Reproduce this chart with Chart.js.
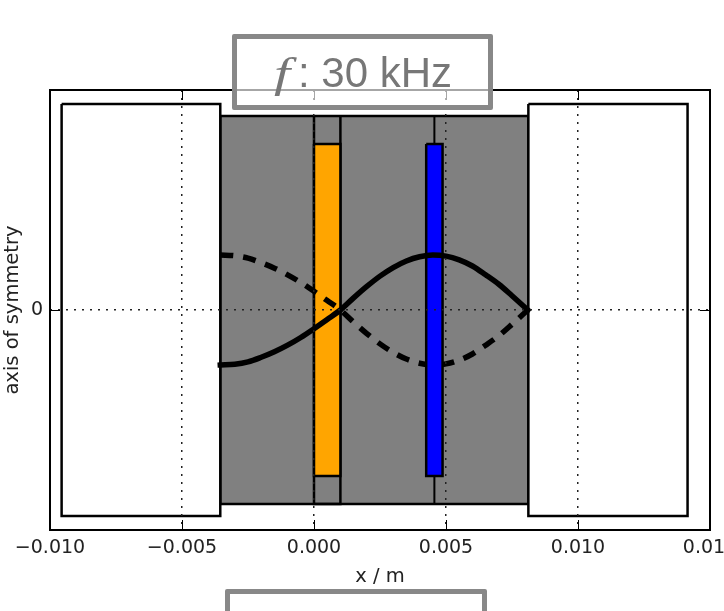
<!DOCTYPE html>
<html>
<head>
<meta charset="utf-8">
<style>
html,body{margin:0;padding:0;background:#fff;width:724px;height:611px;overflow:hidden}
#wrap{position:relative;width:724px;height:611px;overflow:hidden}
canvas{display:block}
.box{position:absolute;box-sizing:border-box;border:5px solid #888;border-radius:2px;background:rgba(255,255,255,.65)}
.lbl{position:absolute;color:#777;white-space:nowrap;line-height:1}
</style>
<script src="https://cdn.jsdelivr.net/npm/chart.js@4"></script>
</head>
<body>
<div id="wrap">
<canvas id="c" width="724" height="611"></canvas>
<div class="box" style="left:232px;top:34px;width:261px;height:76px"></div>
<div class="lbl" style="left:274px;top:48px;font:italic 43px 'Liberation Serif',serif;transform:scaleX(1.35);transform-origin:left top">f</div>
<div class="lbl" style="left:298px;top:49px;font:42px 'Liberation Sans',sans-serif">: 30 kHz</div>
<div class="box" style="left:225px;top:589px;width:262px;height:60px"></div>
</div>
<script>
const xTicks = [-0.01, -0.005, 0, 0.005, 0.01, 0.015];
const yTicks = [0];
const xTitle = "x / m";
const yTitle = "axis of symmetry";

const waveX = [-0.00355,-0.003,-0.0025,-0.002,-0.0015,-0.001,-0.0005,0,0.0005,0.001,0.0015,0.002,0.0025,0.003,0.0035,0.004,0.0045,0.005,0.0055,0.006,0.0065,0.007,0.0075,0.0081];
const solidY = [-0.25,-0.247,-0.236,-0.215,-0.19,-0.16,-0.125,-0.085,-0.043,0,0.055,0.107,0.154,0.193,0.223,0.242,0.25,0.245,0.228,0.2,0.16,0.117,0.065,0];
const dashedY = [0.25,0.247,0.236,0.215,0.19,0.16,0.125,0.085,0.043,0,-0.055,-0.107,-0.154,-0.193,-0.223,-0.242,-0.25,-0.245,-0.228,-0.2,-0.16,-0.117,-0.065,0];

const regionX = [-0.00355, 0.00812, 0.00812, -0.00355, -0.00355];
const regionY = [0.882, 0.882, -0.882, -0.882, 0.882];
const leftWallX = [-0.00956, -0.00355, -0.00355, -0.00956, -0.00956];
const rightWallX = [0.00812, 0.01415, 0.01415, 0.00812, 0.00812];
const wallY = [0.936, 0.936, -0.936, -0.936, 0.936];
const orangeX = [0, 0.001, 0.001, 0, 0];
const orangeY = [0.755, 0.755, -0.755, -0.755, 0.755];
const blueX = [0.00425, 0.00487, 0.00487, 0.00425, 0.00425];
const blueY = [0.755, 0.755, -0.755, -0.755, 0.755];
const orangeStemX = [0, 0, 0.001, 0.001];
const orangeStemY = [0.882, -0.882, -0.882, 0.882];
const blueStemX = [0.00456, 0.00456];
const blueStemY = [0.882, -0.882];

const pts = (xs, ys) => xs.map((x, i) => ({x, y: ys[i]}));
const shape = (xs, ys, fill, width) => ({
  data: pts(xs, ys), showLine: true, pointRadius: 0, tension: 0,
  borderColor: '#000', borderWidth: width, backgroundColor: fill, fill: 'shape', borderJoinStyle: 'miter'
});
const line = (xs, ys, width) => ({
  data: pts(xs, ys), showLine: true, pointRadius: 0, tension: 0,
  borderColor: '#000', borderWidth: width, fill: false
});

const frame = {
  id: 'frame',
  afterDraw(chart) {
    const {ctx, chartArea: a, scales: {x, y}} = chart;
    const len = 10;
    ctx.save();
    ctx.strokeStyle = '#000';
    ctx.lineWidth = 1;
    ctx.beginPath();
    xTicks.forEach(v => {
      const p = Math.round(x.getPixelForValue(v)) + 0.5;
      ctx.moveTo(p, a.bottom); ctx.lineTo(p, a.bottom - len);
      ctx.moveTo(p, a.top); ctx.lineTo(p, a.top + len);
    });
    yTicks.forEach(v => {
      const p = Math.round(y.getPixelForValue(v)) + 0.5;
      ctx.moveTo(a.left, p); ctx.lineTo(a.left + len, p);
      ctx.moveTo(a.right, p); ctx.lineTo(a.right - len, p);
    });
    ctx.stroke();
    ctx.lineWidth = 2;
    ctx.strokeRect(a.left, a.top, a.right - a.left, a.bottom - a.top);
    ctx.restore();
  }
};

new Chart(document.getElementById('c'), {
  type: 'scatter',
  data: { datasets: [
    Object.assign(shape(regionX, regionY, '#808080', 2.5), {order: 9}),
    Object.assign(line(orangeStemX, orangeStemY, 2.5), {order: 8}),
    Object.assign(line(blueStemX, blueStemY, 2), {order: 8}),
    Object.assign(shape(leftWallX, wallY, '#ffffff', 2.5), {order: 7}),
    Object.assign(shape(rightWallX, wallY, '#ffffff', 2.5), {order: 7}),
    Object.assign(shape(orangeX, orangeY, '#ffa500', 2.5), {order: 6}),
    {data: pts(waveX, dashedY), showLine: true, pointRadius: 0, cubicInterpolationMode: 'monotone', borderColor: '#000', borderWidth: 5.5, borderDash: [13, 10], fill: false, order: 5},
    Object.assign(shape(blueX, blueY, '#0000ff', 2.5), {order: 4}),
    {data: pts(waveX, solidY), showLine: true, pointRadius: 0, cubicInterpolationMode: 'monotone', borderColor: '#000', borderWidth: 5.5, borderCapStyle: 'square', fill: false, order: 3}
  ]},
  options: {
    responsive: false,
    animation: false,
    events: [],
    layout: { autoPadding: false, padding: {top: 90, right: 14, left: 0, bottom: 0} },
    plugins: { legend: {display: false}, tooltip: {enabled: false}, filler: {drawTime: 'beforeDatasetDraw'} },
    scales: {
      x: {
        type: 'linear', min: -0.01, max: 0.015,
        afterFit(s) { s.height = 81; s.paddingLeft = 0; s.paddingRight = 0; },
        afterBuildTicks(s) { s.ticks = xTicks.map(value => ({value})); },
        ticks: {
          autoSkip: false, maxRotation: 0, minRotation: 0, padding: 7, color: '#222',
          font: {family: 'DejaVu Sans', size: 19},
          callback: v => (v < 0 ? '\u2212' : '') + Math.abs(v).toFixed(3)
        },
        grid: {z: 1, color: '#222', lineWidth: 1.5, drawTicks: false},
        border: {display: false, dash: [2, 6]},
        title: {display: true, text: xTitle, color: '#222', padding: {top: 0, bottom: 22}, font: {family: 'DejaVu Sans', size: 19.5}}
      },
      y: {
        type: 'linear', min: -1, max: 1,
        afterFit(s) { s.width = 50; s.paddingTop = 0; s.paddingBottom = 0; },
        afterBuildTicks(s) { s.ticks = yTicks.map(value => ({value})); },
        ticks: { padding: 7, color: '#222', font: {family: 'DejaVu Sans', size: 19}, callback: v => String(v) },
        grid: {z: 1, color: '#222', lineWidth: 1.5, drawTicks: false},
        border: {display: false, dash: [2, 6]},
        title: {display: true, text: yTitle, color: '#222', padding: {top: 1, bottom: 0}, font: {family: 'DejaVu Sans', size: 19.5}}
      }
    }
  },
  plugins: [frame]
});
</script>
</body>
</html>
